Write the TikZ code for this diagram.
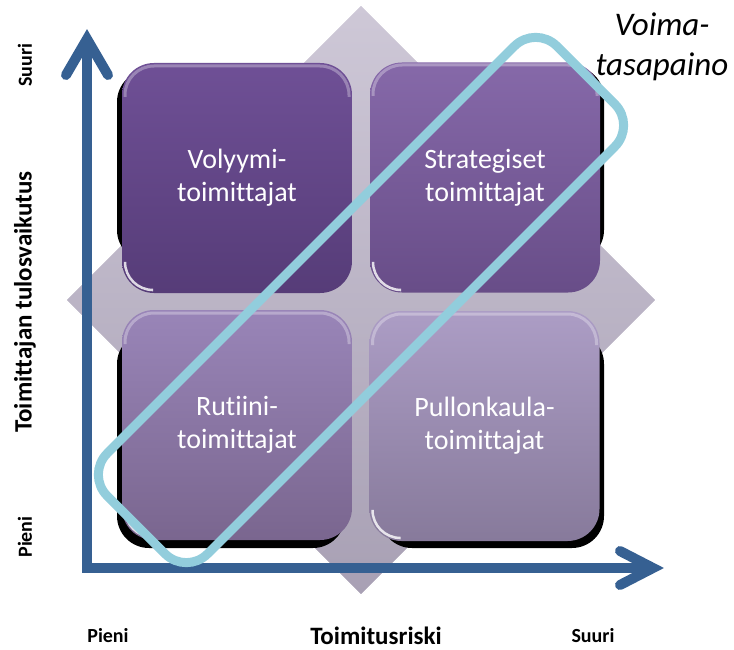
\documentclass[tikz,border=0pt]{standalone}
\usepackage{fontspec}
\setmainfont{Carlito}[Ligatures=NoCommon]
\usetikzlibrary{calc}

\definecolor{axisblue}{RGB}{54,96,146}
\definecolor{ringcyan}{RGB}{146,205,220}
\definecolor{diamtop}{RGB}{206,200,215}
\definecolor{diambot}{RGB}{168,160,180}
\definecolor{tlTop}{RGB}{111,80,150}
\definecolor{tlBot}{RGB}{86,60,120}
\definecolor{trTop}{RGB}{134,105,169}
\definecolor{trBot}{RGB}{104,77,136}
\definecolor{blTop}{RGB}{153,133,184}
\definecolor{blBot}{RGB}{122,102,143}
\definecolor{brTop}{RGB}{172,157,197}
\definecolor{brBot}{RGB}{135,122,155}

% glossy rim along the top edge and the lower left corner of a tile
\newcommand\quadgloss[4]{%
  \draw[white, opacity=.3, line width=3pt, rounded corners=29pt]
    ({#1+3},{#2+34}) -- ({#1+3},{#2+3}) -- ({#3-3},{#2+3}) -- ({#3-3},{#2+34});
  \draw[white, opacity=.8, line width=2.5pt, rounded corners=28pt, line cap=round]
    ({#1+3},{#4-30}) -- ({#1+3},{#4-3}) -- ({#1+30},{#4-3});
}

\begin{document}
\begin{tikzpicture}[x=1pt, y=-1pt,
  quad/.style={rectangle, rounded corners=32pt, minimum width=230pt, minimum height=230pt,
    inner sep=0pt, text=white, align=center, font=\fontsize{28}{33}\selectfont},
  tileshadow/.style={fill=black, rounded corners=32pt},
  axis/.style={draw=axisblue, line width=10pt, line join=miter, line cap=butt},
  chevron/.style={draw=axisblue, line width=10pt, line join=miter, line cap=round},
  endlabel/.style={font=\bfseries\fontsize{20}{24}\selectfont, inner sep=0pt},
  axistitle/.style={font=\bfseries\fontsize{25}{28}\selectfont, inner sep=0pt}]

  % canvas
  \fill[white] (0,0) rectangle (734,650);
  \useasboundingbox (0,0) rectangle (734,650);

  % grey diamond behind the grid
  \path[top color=diamtop, bottom color=diambot, draw=white, line width=1pt]
    (361,5) -- (656,300) -- (361,595) -- (66,300) -- cycle;

  % tile shadows
  \fill[tileshadow] (117,70) rectangle (345,262);
  \fill[tileshadow] (380,66) rectangle (604,262);
  \fill[tileshadow] (117,332) rectangle (345,548);
  \fill[tileshadow] (380,332) rectangle (604,548);

  % the four tiles
  \node[quad, top color=tlTop, bottom color=tlBot] (vol) at (237,178) {Volyymi-\\toimittajat};
  \node[quad, top color=trTop, bottom color=trBot] (str) at (485,177.5) {Strategiset\\toimittajat};
  \node[quad, top color=blTop, bottom color=blBot] (rut) at (237,425) {Rutiini-\\toimittajat};
  \node[quad, top color=brTop, bottom color=brBot] (pul) at (484.5,426) {Pullonkaula-\\toimittajat};

  \quadgloss{122}{63}{352}{293}
  \quadgloss{370}{62}{600}{293}
  \quadgloss{122}{310}{352}{540}
  \quadgloss{369.5}{311}{599.5}{541}

  % axes
  \coordinate (ytip) at (87,39);
  \coordinate (orig) at (87,568);
  \coordinate (xtip) at (653,568);
  \path[axis] (ytip) -- (orig) -- (xtip);
  \path[chevron] ($(ytip)+(-21,36)$) -- (ytip) -- ($(ytip)+(21,36)$);
  \path[chevron] ($(xtip)+(-33,-17)$) -- (xtip) -- ($(xtip)+(-33,17)$);

  % balance band across the diagonal
  \begin{scope}[shift={(361,300)}, rotate=45]
    \draw[ringcyan, line width=9pt, rounded corners=30pt] (-318,-71) rectangle (318,71);
  \end{scope}

  % axis labels
  \node[endlabel, rotate=90] (ysuuri) at (25,65) {Suuri};
  \node[axistitle, rotate=90] (ytitle) at (25,302) {Toimittajan tulosvaikutus};
  \node[endlabel, rotate=90] (ypieni) at (25,537) {Pieni};
  \node[endlabel] (xpieni) at (108,636) {Pieni};
  \node[axistitle] (xtitle) at (376,636) {Toimitusriski};
  \node[endlabel] (xsuuri) at (593,636) {Suuri};

  % band caption
  \node[align=center, font=\itshape\fontsize{33}{40}\selectfont, inner sep=0pt] (cap) at (662,47)
    {Voima-\\tasapaino};
\end{tikzpicture}
\end{document}
